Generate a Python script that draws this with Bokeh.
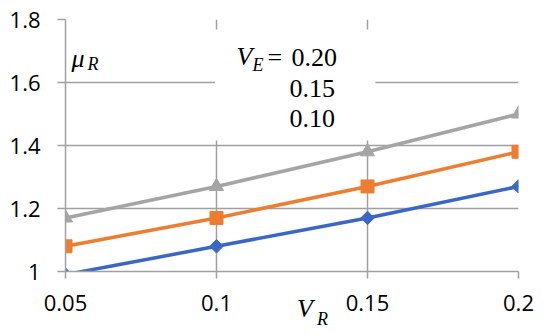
import math
from bokeh.plotting import figure
from bokeh.models import FixedTicker, Range1d, Label, BoxAnnotation, LinearAxis
from bokeh.embed import file_html
from bokeh.resources import INLINE

# data
vr = [0.05, 0.10, 0.15, 0.20]
x_tick_labels = ["0.05", "0.1", "0.15", "0.2"]
y_ticks = [1.0, 1.2, 1.4, 1.6, 1.8]
y_tick_labels = ["1", "1.2", "1.4", "1.6", "1.8"]
mu_ve_020 = [1.17, 1.27, 1.38, 1.50]
mu_ve_015 = [1.08, 1.17, 1.27, 1.38]
mu_ve_010 = [0.99, 1.08, 1.17, 1.27]
ve_labels = ["0.20", "0.15", "0.10"]

GRID = "#A0A0A0"
p = figure(width=550, height=335, output_backend="svg", toolbar_location=None,
           x_range=Range1d(0.05, 0.2), y_range=Range1d(1.0, 1.8),
           min_border_left=65, min_border_right=32, min_border_top=19, min_border_bottom=64)
p.outline_line_color = None
p.background_fill_color = "white"

for ax, ticks, labels in ((p.xaxis, vr, x_tick_labels), (p.yaxis, y_ticks, y_tick_labels)):
    ax.ticker = FixedTicker(ticks=ticks)
    ax.major_label_overrides = {t: l for t, l in zip(ticks, labels)}
    ax.axis_line_color = GRID
    ax.axis_line_width = 1.5
    ax.major_tick_line_color = GRID
    ax.major_tick_line_width = 1.5
    ax.major_tick_in = 0
    ax.minor_tick_line_color = None
    ax.major_label_text_font = "Open Sans"
    ax.major_label_text_font_size = "22px"
    ax.major_label_text_color = "black"

p.xaxis.major_tick_out = 7
p.yaxis.major_tick_out = 8
p.yaxis.major_label_standoff = 17
p.xaxis.major_label_standoff = 16

# x axis title: V with subscript R
p.xaxis.axis_label = "\u2003V"
p.xaxis.axis_label_text_font = "Liberation Serif"
p.xaxis.axis_label_text_font_style = "italic"
p.xaxis.axis_label_text_font_size = "26px"
p.xaxis.axis_label_text_color = "black"
p.xaxis.axis_label_standoff = -20

sub_axis = LinearAxis(ticker=FixedTicker(ticks=[]), axis_line_color=None,
                      major_tick_line_color=None, minor_tick_line_color=None,
                      major_label_text_font_size="0px", major_label_standoff=0,
                      major_tick_out=0, axis_label="\u2003\u2003\u2003\u2009\u2009R",
                      axis_label_text_font="Liberation Serif", axis_label_text_font_style="italic",
                      axis_label_text_font_size="18px", axis_label_text_color="black",
                      axis_label_standoff=-17)
p.add_layout(sub_axis, "below")

p.xgrid.ticker = FixedTicker(ticks=vr)
p.ygrid.ticker = FixedTicker(ticks=y_ticks)
for g in (p.xgrid, p.ygrid):
    g.grid_line_color = GRID
    g.grid_line_width = 1.5

p.line(vr, mu_ve_020, color="#A5A5A5", line_width=3.5)
p.scatter(vr, mu_ve_020, marker="triangle", size=14, color="#A5A5A5")
p.line(vr, mu_ve_015, color="#ED7D31", line_width=3.5)
p.scatter(vr, mu_ve_015, marker="square", size=13, color="#ED7D31")
p.line(vr, mu_ve_010, color="#3A66C7", line_width=3.5)
p.scatter(vr, mu_ve_010, marker="square", size=9.5, angle=math.pi / 4, color="#3A66C7")

p.add_layout(BoxAnnotation(left=0.0995, right=0.1526, top=1.768, bottom=1.416,
                           fill_color="white", fill_alpha=1, line_color=None))

def px2x(px):
    return 0.05 + (px - 65) / 453 * 0.15

def py2y(py):
    return 1.8 - (py - 19) / 252 * 0.8

def lab(text, px, py, size, italic=False):
    p.add_layout(Label(x=px2x(px), y=py2y(py), text=text, text_font="Liberation Serif",
                       text_font_size=size, text_font_style="italic" if italic else "normal",
                       text_align="left", text_baseline="middle", text_color="black"))

lab("\u03bc", 71, 58, "26px", True)
lab("R", 87, 63, "18px", True)
lab("V", 236, 56, "26px", True)
lab("E", 252, 64, "18px", True)
lab("=", 267, 57, "26px")
lab(ve_labels[0], 291, 57, "26px")
for lbl, py in zip(ve_labels[1:], [88, 118]):
    lab(lbl, 289, py, "26px")

open("out.html", "w").write(file_html(p, INLINE))
